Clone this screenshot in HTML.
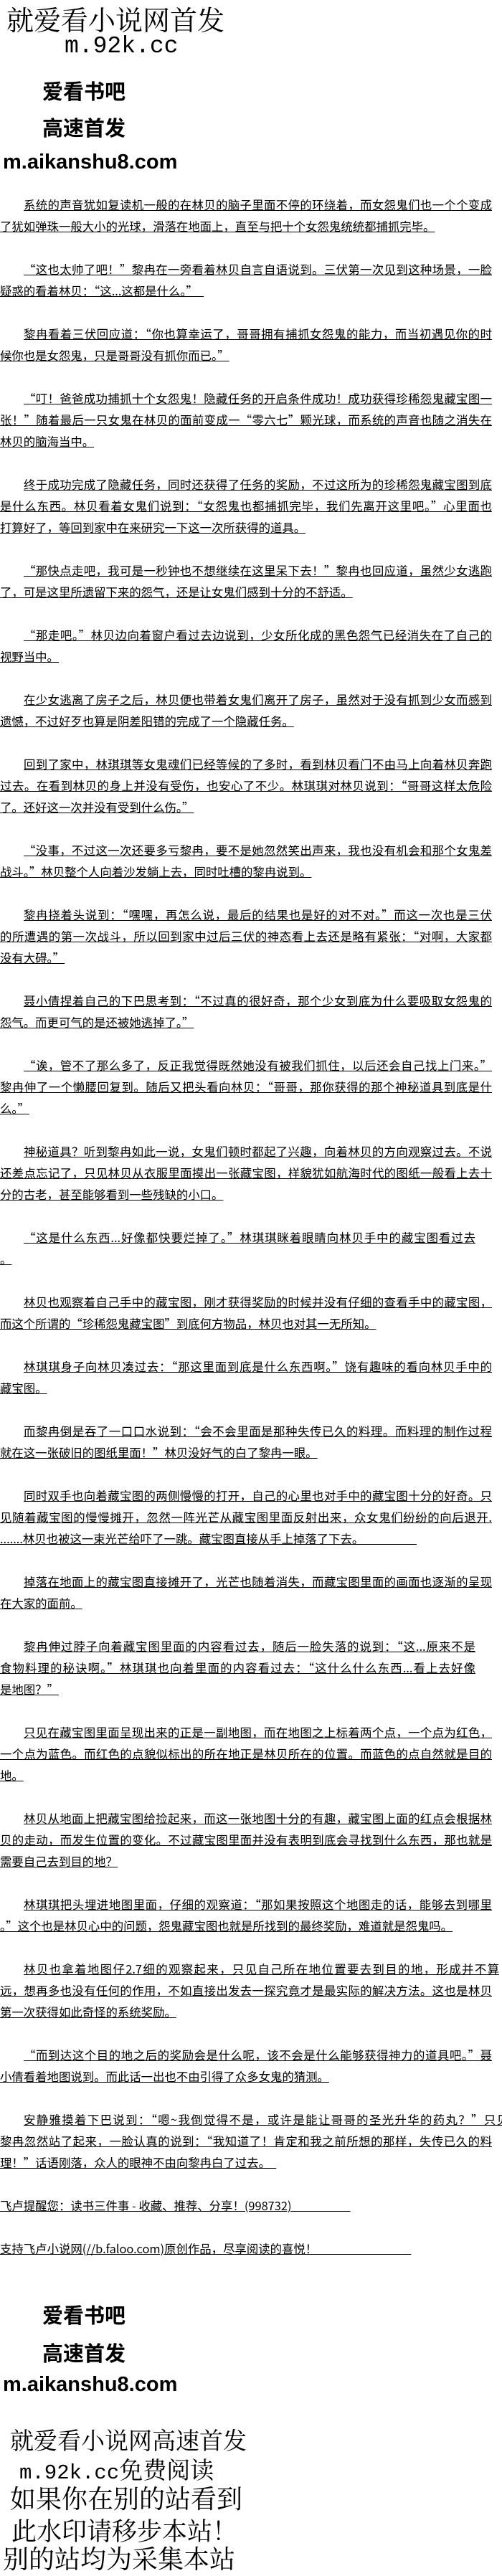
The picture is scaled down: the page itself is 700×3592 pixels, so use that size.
<!DOCTYPE html>
<html><head><meta charset="utf-8">
<style>
html,body{margin:0;padding:0;background:#fff;}
body{width:700px;height:3584px;position:relative;overflow:hidden;color:#000;}
.a{position:absolute;white-space:nowrap;}
.kai{font-family:"Noto Serif CJK SC","WenQuanYi Zen Hei",serif;}
.bd{font-family:"Noto Sans CJK SC","WenQuanYi Zen Hei",sans-serif;font-weight:bold;font-size:29px;line-height:34px;}
.url{font-family:"Liberation Sans",sans-serif;font-weight:bold;font-size:29px;line-height:34px;}
.mono{font-family:"Liberation Mono",monospace;}
#txt{position:absolute;left:0;top:270px;width:686px;font-family:"WenQuanYi Zen Hei","Noto Sans CJK SC",sans-serif;font-size:16.4px;}
#txt p{margin:0 0 30px 0;}
#txt span{display:block;height:30px;line-height:30px;white-space:nowrap;overflow:visible;}
#txt span.f{text-align:justify;text-align-last:justify;white-space:normal;text-decoration:underline;}
#txt span.i{padding-left:33px;}
#txt u{text-decoration:underline;}
</style></head><body>

<div class="a kai" style="left:9px;top:6px;font-size:38px;line-height:40px;">就爱看小说网首发</div>
<div class="a mono" style="left:90px;top:47px;font-size:33px;line-height:36px;">m.92k.cc</div>
<div class="a bd" style="left:59px;top:109px;">爱看书吧</div>
<div class="a bd" style="left:59px;top:160px;">高速首发</div>
<div class="a url" style="left:4px;top:209px;">m.aikanshu8.com</div>

<div id="txt">
<p><span class="f i">系统的声音犹如复读机一般的在林贝的脑子里面不停的环绕着，而女怨鬼们也一个个变成</span><span><u>了犹如弹珠一般大小的光球，滑落在地面上，直至与把十个女怨鬼统统都捕抓完毕。</u></span></p>
<p><span class="f i">“这也太帅了吧！”黎冉在一旁看着林贝自言自语说到。三伏第一次见到这种场景，一脸</span><span><u>疑惑的看着林贝：“这...这都是什么。”　</u></span></p>
<p><span class="f i">黎冉看着三伏回应道：“你也算幸运了，哥哥拥有捕抓女怨鬼的能力，而当初遇见你的时</span><span><u>候你也是女怨鬼，只是哥哥没有抓你而已。”</u></span></p>
<p><span class="f i">“叮！爸爸成功捕抓十个女怨鬼！隐藏任务的开启条件成功！成功获得珍稀怨鬼藏宝图一</span><span class="f">张！”随着最后一只女鬼在林贝的面前变成一“零六七”颗光球，而系统的声音也随之消失在</span><span><u>林贝的脑海当中。</u></span></p>
<p><span class="f i">终于成功完成了隐藏任务，同时还获得了任务的奖励，不过这所为的珍稀怨鬼藏宝图到底</span><span class="f">是什么东西。林贝看着女鬼们说到：“女怨鬼也都捕抓完毕，我们先离开这里吧。”心里面也</span><span><u>打算好了，等回到家中在来研究一下这一次所获得的道具。</u></span></p>
<p><span class="f i">“那快点走吧，我可是一秒钟也不想继续在这里呆下去！”黎冉也回应道，虽然少女逃跑</span><span><u>了，可是这里所遗留下来的怨气，还是让女鬼们感到十分的不舒适。</u></span></p>
<p><span class="f i">“那走吧。”林贝边向着窗户看过去边说到，少女所化成的黑色怨气已经消失在了自己的</span><span><u>视野当中。</u></span></p>
<p><span class="f i">在少女逃离了房子之后，林贝便也带着女鬼们离开了房子，虽然对于没有抓到少女而感到</span><span><u>遗憾，不过好歹也算是阴差阳错的完成了一个隐藏任务。</u></span></p>
<p><span class="f i">回到了家中，林琪琪等女鬼魂们已经等候的了多时，看到林贝看门不由马上向着林贝奔跑</span><span class="f">过去。在看到林贝的身上并没有受伤，也安心了不少。林琪琪对林贝说到：“哥哥这样太危险</span><span><u>了。还好这一次并没有受到什么伤。”</u></span></p>
<p><span class="f i">“没事，不过这一次还要多亏黎冉，要不是她忽然笑出声来，我也没有机会和那个女鬼差</span><span><u>战斗。”林贝整个人向着沙发躺上去，同时吐槽的黎冉说到。</u></span></p>
<p><span class="f i">黎冉挠着头说到：“嘿嘿，再怎么说，最后的结果也是好的对不对。”而这一次也是三伏</span><span class="f">的所遭遇的第一次战斗，所以回到家中过后三伏的神态看上去还是略有紧张：“对啊，大家都</span><span><u>没有大碍。”</u></span></p>
<p><span class="f i">聂小倩捏着自己的下巴思考到：“不过真的很好奇，那个少女到底为什么要吸取女怨鬼的</span><span><u>怨气。而更可气的是还被她逃掉了。”</u></span></p>
<p><span class="f i">“诶，管不了那么多了，反正我觉得既然她没有被我们抓住，以后还会自己找上门来。”</span><span class="f">黎冉伸了一个懒腰回复到。随后又把头看向林贝：“哥哥，那你获得的那个神秘道具到底是什</span><span><u>么。”</u></span></p>
<p><span class="f i">神秘道具？听到黎冉如此一说，女鬼们顿时都起了兴趣，向着林贝的方向观察过去。不说</span><span class="f">还差点忘记了，只见林贝从衣服里面摸出一张藏宝图，样貌犹如航海时代的图纸一般看上去十</span><span><u>分的古老，甚至能够看到一些残缺的小口。</u></span></p>
<p><span class="f i" style="width:630px">“这是什么东西...好像都快要烂掉了。”林琪琪眯着眼睛向林贝手中的藏宝图看过去</span><span><u>。</u></span></p>
<p><span class="f i">林贝也观察着自己手中的藏宝图，刚才获得奖励的时候并没有仔细的查看手中的藏宝图，</span><span><u>而这个所谓的“珍稀怨鬼藏宝图”到底何方物品，林贝也对其一无所知。</u></span></p>
<p><span class="f i">林琪琪身子向林贝凑过去：“那这里面到底是什么东西啊。”饶有趣味的看向林贝手中的</span><span><u>藏宝图。</u></span></p>
<p><span class="f i">而黎冉倒是吞了一口口水说到：“会不会里面是那种失传已久的料理。而料理的制作过程</span><span><u>就在这一张破旧的图纸里面！”林贝没好气的白了黎冉一眼。</u></span></p>
<p><span class="f i">同时双手也向着藏宝图的两侧慢慢的打开，自己的心里也对手中的藏宝图十分的好奇。只</span><span class="f">见随着藏宝图的慢慢摊开，忽然一阵光芒从藏宝图里面反射出来，众女鬼们纷纷的向后退开.</span><span><u>.......林贝也被这一束光芒给吓了一跳。藏宝图直接从手上掉落了下去。　　　　　</u></span></p>
<p><span class="f i">掉落在地面上的藏宝图直接摊开了，光芒也随着消失，而藏宝图里面的画面也逐渐的呈现</span><span><u>在大家的面前。</u></span></p>
<p><span class="f i" style="width:630px">黎冉伸过脖子向着藏宝图里面的内容看过去，随后一脸失落的说到：“这...原来不是</span><span class="f" style="width:663px">食物料理的秘诀啊。”林琪琪也向着里面的内容看过去：“这什么什么东西...看上去好像</span><span><u>是地图？”</u></span></p>
<p><span class="f i">只见在藏宝图里面呈现出来的正是一副地图，而在地图之上标着两个点，一个点为红色，</span><span class="f">一个点为蓝色。而红色的点貌似标出的所在地正是林贝所在的位置。而蓝色的点自然就是目的</span><span><u>地。</u></span></p>
<p><span class="f i">林贝从地面上把藏宝图给捡起来，而这一张地图十分的有趣，藏宝图上面的红点会根据林</span><span class="f">贝的走动，而发生位置的变化。不过藏宝图里面并没有表明到底会寻找到什么东西，那也就是</span><span><u>需要自己去到目的地？</u></span></p>
<p><span class="f i">林琪琪把头埋进地图里面，仔细的观察道：“那如果按照这个地图走的话，能够去到哪里</span><span><u>。”这个也是林贝心中的问题，怨鬼藏宝图也就是所找到的最终奖励，难道就是怨鬼吗。</u></span></p>
<p><span class="f i" style="width:663px">林贝也拿着地图仔2.7细的观察起来，只见自己所在地位置要去到目的地，形成并不算</span><span class="f">远，想再多也没有任何的作用，不如直接出发去一探究竟才是最实际的解决方法。这也是林贝</span><span><u>第一次获得如此奇怪的系统奖励。</u></span></p>
<p><span class="f i">“而到达这个目的地之后的奖励会是什么呢，该不会是什么能够获得神力的道具吧。”聂</span><span><u>小倩看着地图说到。而此话一出也不由引得了众多女鬼的猜测。</u></span></p>
<p><span class="f i" style="width:676px">安静雅摸着下巴说到：“嗯~我倒觉得不是，或许是能让哥哥的圣光升华的药丸？”只见</span><span class="f">黎冉忽然站了起来，一脸认真的说到：“我知道了！肯定和我之前所想的那样，失传已久的料</span><span><u>理！”话语刚落，众人的眼神不由向黎冉白了过去。　</u></span></p>
<p><span><u>飞卢提醒您：读书三件事 - 收藏、推荐、分享！(998732)　　　　　</u></span></p>
<p><span><u>支持飞卢小说网(//b.faloo.com)原创作品，尽享阅读的喜悦！　　　　　　　　</u></span></p>
</div>

<div class="a bd" style="left:59px;top:3210px;">爱看书吧</div>
<div class="a bd" style="left:59px;top:3263px;">高速首发</div>
<div class="a url" style="left:4px;top:3308px;">m.aikanshu8.com</div>

<div class="a kai" style="left:14px;top:3384px;font-size:33px;line-height:36px;">就爱看小说网高速首发</div>
<div class="a" style="left:27px;top:3425px;line-height:36px;"><span class="mono" style="font-size:29px;">m.92k.cc</span><span class="kai" style="font-size:33px;">免费阅读</span></div>
<div class="a kai" style="left:14px;top:3464px;font-size:36px;line-height:38px;">如果你在别的站看到</div>
<div class="a kai" style="left:16px;top:3509px;font-size:35px;line-height:38px;">此水印请移步本站！</div>
<div class="a kai" style="left:4px;top:3548px;font-size:36px;line-height:38px;">别的站均为采集本站</div>

</body></html>
